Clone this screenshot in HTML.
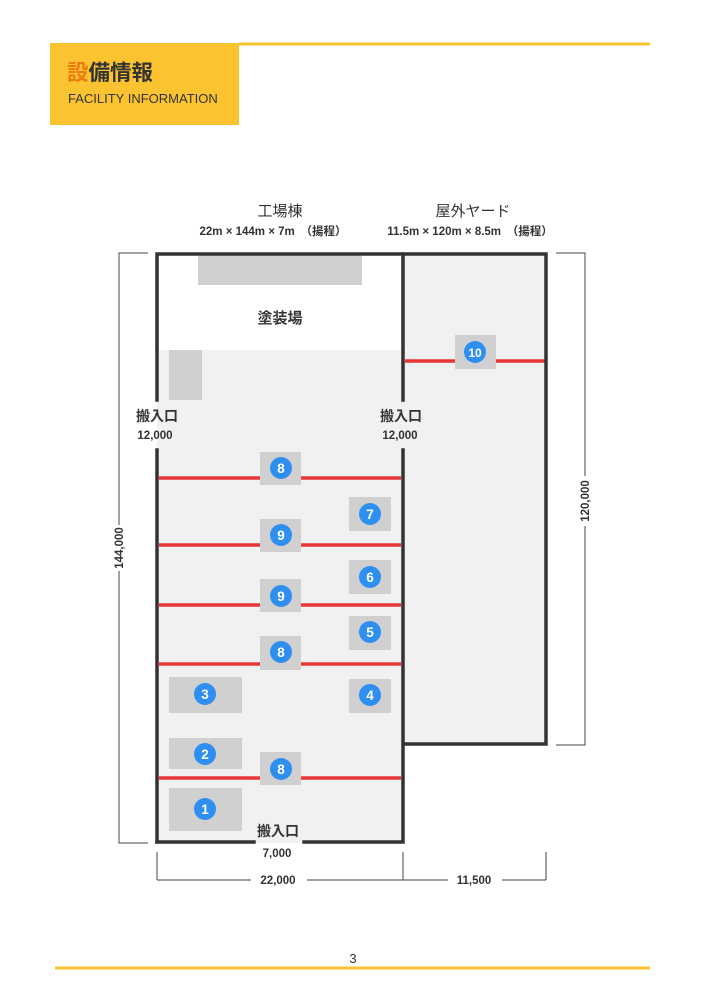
<!DOCTYPE html>
<html><head><meta charset="utf-8"><style>
body{margin:0;background:#fff}
svg{display:block}
text{font-family:"Liberation Sans","Noto Sans CJK JP",sans-serif}
</style></head><body>
<svg width="707" height="1000" viewBox="0 0 707 1000" xmlns="http://www.w3.org/2000/svg">
<rect x="50" y="43" width="189" height="82" fill="#fbc330"/>
<line x1="239" y1="44" x2="650" y2="44" stroke="#fbc330" stroke-width="3"/>
<text x="67" y="80" font-size="21.5" font-weight="bold" fill="#333"><tspan fill="#f07a10">設</tspan>備情報</text>
<text x="68" y="103" font-size="13" fill="#333">FACILITY INFORMATION</text>

<text x="280" y="216" font-size="15" text-anchor="middle" fill="#333">工場棟</text>
<text x="273" y="235" font-size="11.5" font-weight="bold" text-anchor="middle" fill="#333">22m × 144m × 7m　（揚程）</text>
<text x="473" y="216" font-size="15" text-anchor="middle" fill="#333">屋外ヤード</text>
<text x="470" y="235" font-size="11.5" font-weight="bold" text-anchor="middle" fill="#333">11.5m × 120m × 8.5m　（揚程）</text>

<rect x="157" y="253" width="246" height="590" fill="#f1f1f1"/>
<rect x="159" y="255" width="242" height="95" fill="#fff"/>
<rect x="403" y="253" width="143" height="492" fill="#f1f1f1"/>
<rect x="198" y="255" width="164" height="30" fill="#d0d0d0"/>
<rect x="169" y="350" width="33" height="50" fill="#d0d0d0"/>

<g stroke="#e83535" stroke-width="3.5">
<line x1="159" y1="478" x2="401" y2="478"/>
<line x1="159" y1="545" x2="401" y2="545"/>
<line x1="159" y1="605" x2="401" y2="605"/>
<line x1="159" y1="664" x2="401" y2="664"/>
<line x1="159" y1="778" x2="401" y2="778"/>
<line x1="405" y1="361" x2="545" y2="361"/>
</g>

<g fill="#d0d0d0">
<rect x="260" y="452" width="41" height="33"/>
<rect x="260" y="519" width="41" height="33"/>
<rect x="260" y="579" width="41" height="33"/>
<rect x="260" y="636" width="41" height="34"/>
<rect x="260" y="752" width="41" height="33"/>
<rect x="349" y="497" width="42" height="34"/>
<rect x="349" y="560" width="42" height="34"/>
<rect x="349" y="616" width="42" height="34"/>
<rect x="349" y="679" width="42" height="34"/>
<rect x="169" y="677" width="73" height="36"/>
<rect x="169" y="738" width="73" height="31"/>
<rect x="169" y="788" width="73" height="43"/>
<rect x="455" y="335" width="41" height="34"/>
</g>
<g fill="#2f8ff0">
<circle cx="281" cy="468" r="11"/><circle cx="281" cy="535" r="11"/>
<circle cx="281" cy="596" r="11"/><circle cx="281" cy="652" r="11"/>
<circle cx="281" cy="769" r="11"/><circle cx="370" cy="514" r="11"/>
<circle cx="370" cy="577" r="11"/><circle cx="370" cy="632" r="11"/>
<circle cx="370" cy="695" r="11"/><circle cx="205" cy="694" r="11"/>
<circle cx="205" cy="754" r="11"/><circle cx="205" cy="809" r="11"/>
<circle cx="475" cy="352" r="11"/>
</g>
<g fill="#fff" font-size="13.5" font-weight="bold" text-anchor="middle">
<text x="281" y="473">8</text><text x="281" y="540">9</text>
<text x="281" y="601">9</text><text x="281" y="657">8</text>
<text x="281" y="774">8</text><text x="370" y="519">7</text>
<text x="370" y="582">6</text><text x="370" y="637">5</text>
<text x="370" y="700">4</text><text x="205" y="699">3</text>
<text x="205" y="759">2</text><text x="205" y="814">1</text>
<text x="475" y="357" font-size="12">10</text>
</g>

<g stroke="#333" stroke-width="3.5" fill="none" stroke-linecap="square">
<polyline points="157,400 157,254 546,254 546,744 404,744"/>
<line x1="157" y1="450" x2="157" y2="842"/>
<polyline points="254,842 157,842"/>
<polyline points="304,842 403,842 403,450"/>
<line x1="403" y1="254" x2="403" y2="400"/>
</g>

<text x="280" y="323" font-size="15" font-weight="bold" text-anchor="middle" fill="#333">塗装場</text>
<text x="157" y="421" font-size="14" font-weight="bold" text-anchor="middle" fill="#333">搬入口</text>
<text x="155" y="439" font-size="11.5" font-weight="bold" text-anchor="middle" fill="#333">12,000</text>
<text x="401" y="421" font-size="14" font-weight="bold" text-anchor="middle" fill="#333">搬入口</text>
<text x="400" y="439" font-size="11.5" font-weight="bold" text-anchor="middle" fill="#333">12,000</text>
<text x="278" y="836" font-size="14" font-weight="bold" text-anchor="middle" fill="#333">搬入口</text>
<text x="277" y="857" font-size="11.5" font-weight="bold" text-anchor="middle" fill="#333">7,000</text>

<g stroke="#444" stroke-width="1" fill="none">
<polyline points="148,253 119,253 119,525"/>
<polyline points="119,571 119,843 148,843"/>
<polyline points="556,253 585,253 585,476"/>
<polyline points="585,526 585,745 556,745"/>
<line x1="157" y1="852" x2="157" y2="880"/>
<line x1="403" y1="852" x2="403" y2="880"/>
<line x1="546" y1="852" x2="546" y2="880"/>
<line x1="157" y1="880" x2="251" y2="880"/>
<line x1="307" y1="880" x2="448" y2="880"/>
<line x1="502" y1="880" x2="546" y2="880"/>
</g>
<text x="278" y="884" font-size="11.5" font-weight="bold" text-anchor="middle" fill="#333">22,000</text>
<text x="474" y="884" font-size="11.5" font-weight="bold" text-anchor="middle" fill="#333">11,500</text>
<text transform="translate(123,548) rotate(-90)" font-size="11.5" font-weight="bold" text-anchor="middle" fill="#333">144,000</text>
<text transform="translate(589,501) rotate(-90)" font-size="11.5" font-weight="bold" text-anchor="middle" fill="#333">120,000</text>

<text x="353" y="963" font-size="13" text-anchor="middle" fill="#333">3</text>
<line x1="55" y1="968" x2="650" y2="968" stroke="#fbc330" stroke-width="3"/>
</svg>
</body></html>
